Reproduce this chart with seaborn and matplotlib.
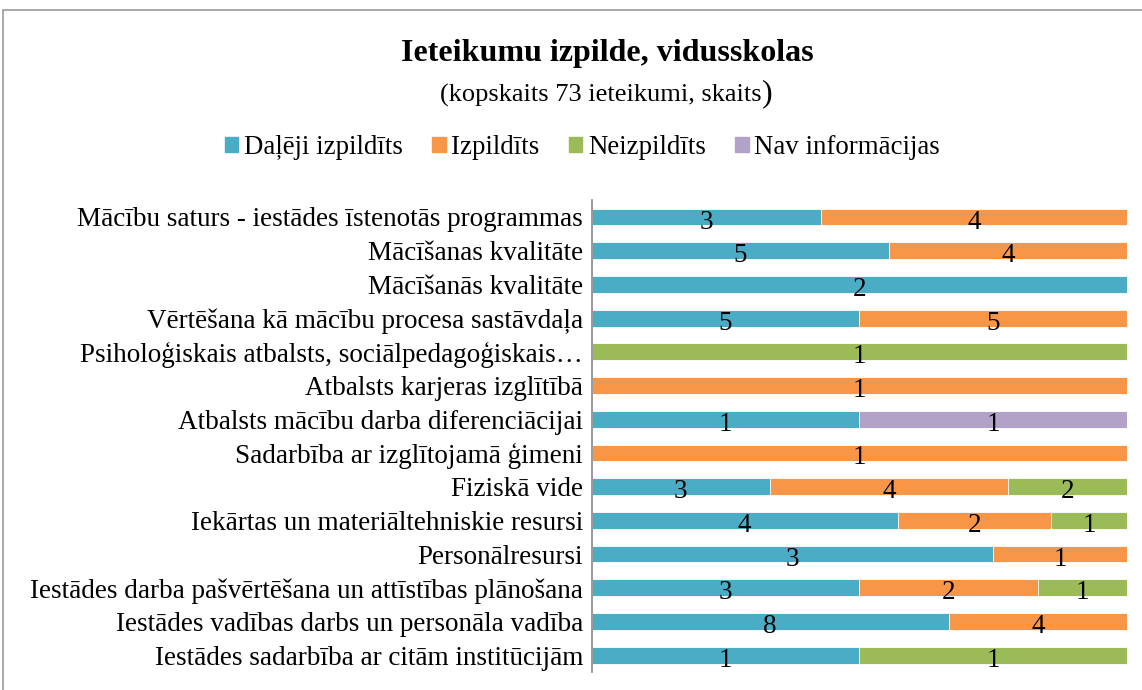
import matplotlib.pyplot as plt
import matplotlib.patches as mpatches
import numpy as np
import pandas as pd
import seaborn as sns

categories = [
    "Mācību saturs - iestādes īstenotās programmas",
    "Mācīšanas kvalitāte",
    "Mācīšanās kvalitāte",
    "Vērtēšana kā mācību procesa sastāvdaļa",
    "Psiholoģiskais atbalsts, sociālpedagoģiskais…",
    "Atbalsts karjeras izglītībā",
    "Atbalsts mācību darba diferenciācijai",
    "Sadarbība ar izglītojamā ģimeni",
    "Fiziskā vide",
    "Iekārtas un materiāltehniskie resursi",
    "Personālresursi",
    "Iestādes darba pašvērtēšana un attīstības plānošana",
    "Iestādes vadības darbs un personāla vadība",
    "Iestādes sadarbība ar citām institūcijām",
]
series = ["Daļēji izpildīts", "Izpildīts", "Neizpildīts", "Nav informācijas"]
dalji = [3, 5, 2, 5, 0, 0, 1, 0, 3, 4, 3, 3, 8, 1]
izpildits = [4, 4, 0, 5, 0, 1, 0, 1, 4, 2, 1, 2, 4, 0]
neizpildits = [0, 0, 0, 0, 1, 0, 0, 0, 2, 1, 0, 1, 0, 1]
nav_info = [0, 0, 0, 0, 0, 0, 1, 0, 0, 0, 0, 0, 0, 0]
colors = ["#4BACC6", "#F79646", "#9BBB59", "#B3A2C7"]

counts = pd.DataFrame(
    {series[0]: dalji, series[1]: izpildits, series[2]: neizpildits, series[3]: nav_info},
    index=categories,
)
share = counts.div(counts.sum(axis=1), axis=0)
cum = share.cumsum(axis=1)

sns.set_theme(style="white")
plt.rcParams["font.family"] = ["Liberation Serif", "DejaVu Serif"]
plt.rcParams["text.color"] = "black"

fig = plt.figure(figsize=(11.42, 6.90), dpi=100)
ax = fig.add_axes([0.518, 0.026, 0.469, 0.684])

# stacked bars: draw cumulative layers from the last series back to the first
for i in range(len(series) - 1, -1, -1):
    sns.barplot(x=cum[series[i]].values, y=categories, color=colors[i],
                width=0.5, orient="h", ax=ax, saturation=1,
                edgecolor="white", linewidth=0.6)

for i, s in enumerate(series):
    left = cum[s] - share[s]
    for j, cat in enumerate(categories):
        v = counts.loc[cat, s]
        if v > 0:
            ax.text(left.iloc[j] + share[s].iloc[j] / 2, j + 0.15, str(v),
                    ha="center", va="center", fontsize=19.5, color="black")

ax.set_xlim(0, 1)
ax.set_xticks([])
ax.set_xlabel("")
ax.tick_params(axis="y", labelsize=19.5, length=0, pad=6, colors="black")
for sp in ["top", "right", "bottom"]:
    ax.spines[sp].set_visible(False)
ax.spines["left"].set_color("#888888")
ax.spines["left"].set_linewidth(1.2)

fig.text(0.532, 0.922, "Ieteikumu izpilde, vidusskolas", ha="center", va="center",
         fontsize=23, fontweight="bold")
fig.text(0.667, 0.861, "(kopskaits 73 ieteikumi, skaits", ha="right", va="center",
         fontsize=19)
fig.text(0.667, 0.864, ")", ha="left", va="center", fontsize=23)

handles = [mpatches.Patch(color=c, label=s) for c, s in zip(colors, series)]
fig.legend(handles=handles, loc="center", bbox_to_anchor=(0.51, 0.786), ncol=4,
           frameon=False, fontsize=19.4, handlelength=0.5, handleheight=0.5,
           handletextpad=0.2, columnspacing=1.1)

fig.patches.append(mpatches.Rectangle((0.003, -0.05), 1.05, 1.035,
                                      transform=fig.transFigure, fill=False,
                                      edgecolor="#999999", linewidth=1.2))

fig.savefig("out.png", dpi=100)
